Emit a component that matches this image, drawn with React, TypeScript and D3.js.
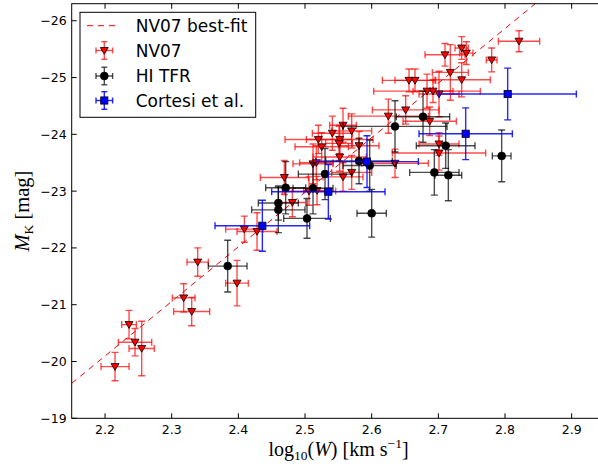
import React from "react";
import * as d3 from "d3";

// ---------- data ----------
const nv07X = [2.215, 2.236, 2.245, 2.255, 2.318, 2.330, 2.339, 2.398, 2.409, 2.428, 2.469, 2.481, 2.506, 2.518, 2.512, 2.517, 2.520, 2.525, 2.541, 2.552, 2.551, 2.557, 2.570, 2.581, 2.552, 2.557, 2.570, 2.625, 2.635, 2.651, 2.656, 2.665, 2.683, 2.692, 2.701, 2.687, 2.701, 2.701, 2.710, 2.718, 2.735, 2.742, 2.735, 2.780, 2.821];
const nv07Y = [-19.91, -20.65, -20.34, -20.23, -21.12, -20.88, -21.75, -21.38, -22.33, -22.29, -23.24, -22.80, -23.00, -23.01, -23.48, -23.50, -23.91, -23.78, -24.02, -23.91, -23.84, -24.16, -24.06, -23.80, -23.60, -23.25, -23.33, -24.32, -23.49, -24.43, -24.95, -24.95, -24.76, -24.76, -24.71, -24.23, -23.83, -23.67, -25.40, -25.09, -25.52, -25.43, -24.96, -25.31, -25.64];
const nv07XErr = [0.021, 0.011, 0.025, 0.019, 0.017, 0.027, 0.016, 0.017, 0.028, 0.030, 0.036, 0.020, 0.040, 0.020, 0.030, 0.025, 0.050, 0.040, 0.030, 0.050, 0.020, 0.020, 0.030, 0.030, 0.040, 0.030, 0.030, 0.060, 0.050, 0.050, 0.040, 0.030, 0.080, 0.030, 0.030, 0.040, 0.030, 0.070, 0.030, 0.027, 0.010, 0.010, 0.043, 0.008, 0.031];
const nv07YErr = [0.25, 0.25, 0.24, 0.48, 0.25, 0.25, 0.25, 0.40, 0.23, 0.33, 0.30, 0.25, 0.25, 0.25, 0.35, 0.30, 0.25, 0.25, 0.30, 0.25, 0.30, 0.30, 0.30, 0.25, 0.25, 0.25, 0.30, 0.30, 0.25, 0.25, 0.20, 0.20, 0.30, 0.20, 0.40, 0.25, 0.20, 0.30, 0.20, 0.49, 0.20, 0.20, 0.30, 0.21, 0.185];

const hiX = [2.384, 2.471, 2.460, 2.460, 2.503, 2.512, 2.530, 2.581, 2.597, 2.600, 2.635, 2.677, 2.694, 2.711, 2.715, 2.795];
const hiY = [-21.68, -23.06, -22.79, -22.67, -22.52, -23.05, -23.30, -23.53, -23.45, -22.61, -24.14, -24.31, -23.33, -23.80, -23.28, -23.62];
const hiXErr = [0.029, 0.030, 0.030, 0.040, 0.035, 0.030, 0.040, 0.050, 0.040, 0.022, 0.078, 0.040, 0.037, 0.044, 0.020, 0.014];
const hiYErr = [0.455, 0.46, 0.30, 0.40, 0.35, 0.45, 0.45, 0.40, 0.45, 0.42, 0.45, 0.45, 0.40, 0.40, 0.45, 0.455];

const cortX = [2.436, 2.535, 2.593, 2.741, 2.804];
const cortY = [-22.39, -22.99, -23.52, -24.01, -24.71];
const cortXErr = [0.071, 0.085, 0.077, 0.070, 0.103];
const cortYErr = [0.45, 0.48, 0.455, 0.455, 0.455];

const fitSlope = -9.61;
const fitPivot = 2.5;
const fitZero = -22.98;
const fitXRange = [2.15, 2.95];

const xTicks = [2.2, 2.3, 2.4, 2.5, 2.6, 2.7, 2.8, 2.9];
const yTicks = [-19, -20, -21, -22, -23, -24, -25, -26];
const legendLabels = ["NV07 best-fit", "NV07", "HI TFR", "Cortesi et al."];

// ---------- layout ----------
const W = 598, H = 468;
const L = 71.7, R = 605, T = 3.7, B = 418.3;

const x = d3.scaleLinear().domain([2.15, 2.95]).range([L, R]);
const y = d3.scaleLinear().domain([-19, -26.3]).range([B, T]);

const fmt = (v: number) => (v < 0 ? "\u2212" + Math.abs(v) : String(v));

type EBProps = { cx: number; cy: number; dx: number; dy: number; color: string; op: number; cap?: number };
const ErrBar = ({ cx, cy, dx, dy, color, op, cap = 3.5 }: EBProps) => (
  <g stroke={color} strokeOpacity={op} strokeWidth={1.4} fill="none">
    <line x1={cx - dx} x2={cx + dx} y1={cy} y2={cy} />
    <line x1={cx} x2={cx} y1={cy - dy} y2={cy + dy} />
    <line x1={cx - dx} x2={cx - dx} y1={cy - cap} y2={cy + cap} />
    <line x1={cx + dx} x2={cx + dx} y1={cy - cap} y2={cy + cap} />
    <line x1={cx - cap} x2={cx + cap} y1={cy - dy} y2={cy - dy} />
    <line x1={cx - cap} x2={cx + cap} y1={cy + dy} y2={cy + dy} />
  </g>
);

const triPath = (cx: number, cy: number, s = 4) =>
  `M${cx - s},${cy - s * 0.75}L${cx + s},${cy - s * 0.75}L${cx},${cy + s * 0.95}Z`;

const Tri = ({ cx, cy }: { cx: number; cy: number }) => (
  <path d={triPath(cx, cy)} fill="#ff0000" stroke="#000" strokeWidth={0.8} />
);
const Dot = ({ cx, cy }: { cx: number; cy: number }) => (
  <circle cx={cx} cy={cy} r={4} fill="#000" stroke="#000" strokeWidth={0.5} />
);
const Sq = ({ cx, cy }: { cx: number; cy: number }) => (
  <rect x={cx - 3.6} y={cy - 3.6} width={7.2} height={7.2} fill="#0000ff" stroke="#000" strokeWidth={0.8} />
);

export default function App() {
  const fitLine = d3
    .line<number>()
    .x((v) => x(v))
    .y((v) => y(fitSlope * (v - fitPivot) + fitZero));

  const legendY = [25.7, 50.5, 76, 100.5];
  const lx = 104.3;

  return (
    <svg
      width={W}
      height={H}
      style={{ position: "fixed", left: 0, top: 0, background: "#fff", fontFamily: "DejaVu Sans" }}
    >
      <defs>
        <clipPath id="plotclip">
          <rect x={L} y={T} width={R - L} height={B - T} />
        </clipPath>
      </defs>
      <rect x={0} y={0} width={W} height={H} fill="#fff" />

      <g clipPath="url(#plotclip)">
        <path d={fitLine(fitXRange) || ""} stroke="#ff0000" strokeWidth={1} strokeDasharray="6,5" fill="none" />

        {nv07X.map((v, i) => (
          <ErrBar key={"rn" + i} cx={x(v)} cy={y(nv07Y[i])} dx={x(v + nv07XErr[i]) - x(v)} dy={y(nv07Y[i]) - y(nv07Y[i] + nv07YErr[i])} color="#ff0000" op={0.7} />
        ))}
        {nv07X.map((v, i) => (
          <Tri key={"rm" + i} cx={x(v)} cy={y(nv07Y[i])} />
        ))}

        {hiX.map((v, i) => (
          <ErrBar key={"hn" + i} cx={x(v)} cy={y(hiY[i])} dx={x(v + hiXErr[i]) - x(v)} dy={y(hiY[i]) - y(hiY[i] + hiYErr[i])} color="#000" op={0.7} />
        ))}
        {hiX.map((v, i) => (
          <Dot key={"hm" + i} cx={x(v)} cy={y(hiY[i])} />
        ))}

        {cortX.map((v, i) => (
          <ErrBar key={"cn" + i} cx={x(v)} cy={y(cortY[i])} dx={x(v + cortXErr[i]) - x(v)} dy={y(cortY[i]) - y(cortY[i] + cortYErr[i])} color="#0000ff" op={0.85} />
        ))}
        {cortX.map((v, i) => (
          <Sq key={"cm" + i} cx={x(v)} cy={y(cortY[i])} />
        ))}
      </g>

      {/* frame */}
      <rect x={L} y={T} width={R - L} height={B - T} fill="none" stroke="#000" strokeWidth={1} />

      {/* ticks */}
      {xTicks.map((t) => (
        <g key={"xt" + t}>
          <line x1={x(t)} x2={x(t)} y1={B} y2={B - 5} stroke="#000" />
          <line x1={x(t)} x2={x(t)} y1={T} y2={T + 5} stroke="#000" />
          <text x={x(t)} y={B + 16} textAnchor="middle" fontSize={12.5} fill="#000">
            {String(t.toFixed(1))}
          </text>
        </g>
      ))}
      {yTicks.map((t) => (
        <g key={"yt" + t}>
          <line x1={L} x2={L + 5} y1={y(t)} y2={y(t)} stroke="#000" />
          <text x={L - 5} y={y(t) + 4.5} textAnchor="end" fontSize={12.5} fill="#000">
            {fmt(t)}
          </text>
        </g>
      ))}

      {/* axis labels */}
      <text x={338.5} y={455.5} textAnchor="middle" fontFamily="Liberation Serif" fontSize={20} fill="#000">
        log<tspan fontSize={13.5} dy={4}>10</tspan>
        <tspan dy={-4}>(</tspan>
        <tspan fontStyle="italic">W</tspan>) [km s<tspan fontSize={13.5} dy={-8}>{"\u22121"}</tspan>
        <tspan dy={8}>]</tspan>
      </text>
      <text transform="translate(29,211) rotate(-90)" textAnchor="middle" fontFamily="Liberation Serif" fontSize={20.5} fill="#000">
        <tspan fontStyle="italic">M</tspan>
        <tspan fontSize={13.5} dy={4}>K</tspan>
        <tspan dy={-4}> [mag]</tspan>
      </text>

      {/* legend */}
      <rect x={80} y={12.3} width={175.7} height={105} fill="#fff" stroke="#000" strokeWidth={1} />
      <line x1={87} x2={120} y1={legendY[0]} y2={legendY[0]} stroke="#ff0000" strokeWidth={1} strokeDasharray="6,5" />
      <ErrBar cx={lx} cy={legendY[1]} dx={8.3} dy={8.8} color="#ff0000" op={0.7} cap={3} />
      <Tri cx={lx} cy={legendY[1]} />
      <ErrBar cx={lx} cy={legendY[2]} dx={8.3} dy={8.8} color="#000" op={0.7} cap={3} />
      <Dot cx={lx} cy={legendY[2]} />
      <ErrBar cx={lx} cy={legendY[3]} dx={8.3} dy={8.8} color="#0000ff" op={0.85} cap={3} />
      <Sq cx={lx} cy={legendY[3]} />
      {legendLabels.map((s, i) => (
        <text key={s} x={135.7} y={legendY[i] + 6} fontSize={17} fill="#000">
          {s}
        </text>
      ))}
    </svg>
  );
}
